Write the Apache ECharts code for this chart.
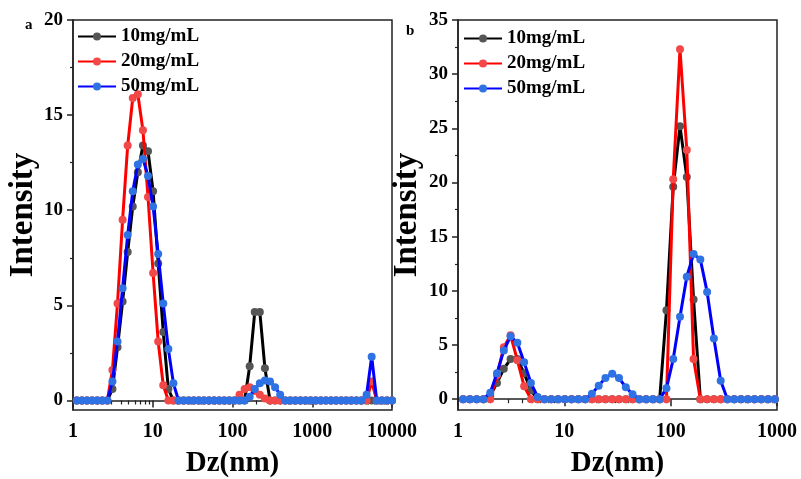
<!DOCTYPE html>
<html>
<head>
<meta charset="utf-8">
<script src="https://cdn.jsdelivr.net/npm/echarts@6/dist/echarts.min.js"></script>
<style>
  html, body { margin: 0; padding: 0; background: #fff; }
  #chart { width: 801px; height: 479px; }
</style>
</head>
<body>
<div id="chart"></div>
<script>
// DLS size classes (nm)
const sizes = [1.117, 1.294, 1.499, 1.736, 2.01, 2.328, 2.696, 3.122, 3.615, 4.187, 4.849, 5.615, 6.503, 7.531, 8.721, 10.1, 11.7, 13.54, 15.69, 18.17, 21.04, 24.36, 28.21, 32.67, 37.84, 43.82, 50.75, 58.77, 68.06, 78.82, 91.28, 105.7, 122.4, 141.8, 164.2, 190.1, 220.2, 255, 295.3, 342, 396.1, 458.7, 531.2, 615.1, 712.4, 825, 955.4, 1106, 1281, 1484, 1718, 1990, 2305, 2669, 3091, 3580, 4145, 4801, 5560, 6439, 7456, 8635, 10000];

// panel a
const a10 = [0, 0, 0, 0, 0, 0, 0, 0.6, 2.8, 5.2, 7.8, 10.2, 12.0, 13.4, 13.1, 11.0, 7.2, 3.6, 0.6, 0, 0, 0, 0, 0, 0, 0, 0, 0, 0, 0, 0, 0, 0, 0, 1.8, 4.65, 4.65, 1.7, 0, 0, 0, 0, 0, 0, 0, 0, 0, 0, 0, 0, 0, 0, 0, 0, 0, 0, 0, 0, 0, 0, 0, 0, 0];
const a20 = [0, 0, 0, 0, 0, 0, 0, 1.6, 5.1, 9.5, 13.4, 15.9, 16.1, 14.2, 10.7, 6.7, 3.1, 0.8, 0, 0, 0, 0, 0, 0, 0, 0, 0, 0, 0, 0, 0, 0, 0.3, 0.6, 0.7, 0.5, 0.3, 0.1, 0, 0, 0, 0, 0, 0, 0, 0, 0, 0, 0, 0, 0, 0, 0, 0, 0, 0, 0, 0, 1.0, 0, 0, 0, 0];
const a50 = [0, 0, 0, 0, 0, 0, 0, 1.0, 3.1, 5.9, 8.7, 11.0, 12.4, 12.7, 11.8, 10.2, 7.7, 5.1, 2.7, 0.9, 0, 0, 0, 0, 0, 0, 0, 0, 0, 0, 0, 0, 0, 0, 0.2, 0.6, 0.9, 1.05, 1.0, 0.7, 0.3, 0, 0, 0, 0, 0, 0, 0, 0, 0, 0, 0, 0, 0, 0, 0, 0, 0.3, 2.3, 0, 0, 0, 0];

// panel b (1 - 1000 nm)
const b10 = [0, 0, 0, 0, 0.3, 1.5, 2.8, 3.7, 3.7, 2.4, 0.8, 0, 0, 0, 0, 0, 0, 0, 0, 0, 0, 0, 0, 0, 0, 0, 0, 0, 0, 0, 8.2, 19.6, 25.2, 20.5, 9.2, 0, 0, 0, 0, 0, 0, 0, 0, 0, 0, 0, 0];
const b20 = [0, 0, 0, 0, 0, 2.2, 4.8, 5.9, 3.6, 1.2, 0, 0, 0, 0, 0, 0, 0, 0, 0, 0, 0, 0, 0, 0, 0, 0, 0, 0, 0, 0, 0, 20.3, 32.3, 23.0, 3.7, 0, 0, 0, 0, 0, 0, 0, 0, 0, 0, 0, 0];
const b50 = [0, 0, 0, 0, 0.6, 2.4, 4.5, 5.8, 5.2, 3.4, 1.5, 0.2, 0, 0, 0, 0, 0, 0, 0, 0.5, 1.25, 1.95, 2.35, 1.95, 1.1, 0.45, 0, 0, 0, 0, 1.0, 3.7, 7.6, 11.3, 13.4, 12.9, 9.9, 5.6, 1.7, 0, 0, 0, 0, 0, 0, 0, 0];

const names = ['10mg/mL', '20mg/mL', '50mg/mL'];
const lineColors = ['#000000', '#ff0000', '#0000ff'];
const dotColors = ['#555555', '#f24848', '#2f72e4'];

const aYMajor = [0, 5, 10, 15, 20];
const aYMinor = [2.5, 7.5, 12.5, 17.5];
const bYMajor = [0, 5, 10, 15, 20, 25, 30, 35];
const bYMinor = [2.5, 7.5, 12.5, 17.5, 22.5, 27.5, 32.5];
const aXMajor = [1, 10, 100, 1000, 10000];
const bXMajor = [1, 10, 100, 1000];
// minor ticks 2..9 of each decade, placed on a linear axis running in log10 units
const xMinor = [];
[0, 1, 2, 3].forEach(e => { for (let k = 2; k <= 9; k++) xMinor.push(e + Math.log10(k)); });

const FONT = '"Liberation Serif", "Times New Roman", serif';
const AXIS_COLOR = '#222';

function xAxes(gridIndex, max, major, decades) {
  return [
    {
      type: 'log', logBase: 10, gridIndex: gridIndex, min: 1, max: max, position: 'bottom',
      splitLine: { show: false },
      name: 'Dz(nm)', nameLocation: 'middle', nameGap: 39,
      nameTextStyle: { fontFamily: FONT, fontWeight: 'bold', fontSize: 29, color: '#000' },
      axisLine: { lineStyle: { color: AXIS_COLOR, width: 1.5 } },
      axisTick: { customValues: major, length: 7, lineStyle: { color: AXIS_COLOR, width: 1.5 } },
      axisLabel: { customValues: major, margin: 12, fontFamily: FONT, fontWeight: 'bold', fontSize: 20, color: '#000',
        formatter: v => String(v) }
    },
    {
      type: 'value', gridIndex: gridIndex, min: 0, max: decades, position: 'bottom',
      splitLine: { show: false },
      axisLine: { show: false },
      axisTick: { customValues: xMinor.filter(v => v < decades), length: 4, lineStyle: { color: AXIS_COLOR, width: 1.2 } },
      axisLabel: { show: false }
    }
  ];
}

function yAxes(gridIndex, min, max, major, minor, gap) {
  const base = { type: 'value', gridIndex: gridIndex, min: min, max: max, position: 'left', splitLine: { show: false } };
  return [
    Object.assign({}, base, {
      name: 'Intensity', nameLocation: 'middle', nameGap: gap,
      nameTextStyle: { fontFamily: FONT, fontWeight: 'bold', fontSize: 33, color: '#000' },
      axisLine: { show: true, lineStyle: { color: AXIS_COLOR, width: 1.5 } },
      axisTick: { show: true, customValues: major, length: 6, lineStyle: { color: AXIS_COLOR, width: 1.5 } },
      axisLabel: { customValues: major, margin: 10, fontFamily: FONT, fontWeight: 'bold', fontSize: 19, color: '#000' }
    }),
    Object.assign({}, base, {
      axisLine: { show: false },
      axisTick: { show: true, customValues: minor, length: 3, lineStyle: { color: AXIS_COLOR, width: 1.2 } },
      axisLabel: { show: false }
    })
  ];
}

function makeSeries(xIdx, yIdx, sets, n) {
  return sets.map((vals, i) => ({
    type: 'line',
    name: names[i],
    xAxisIndex: xIdx,
    yAxisIndex: yIdx,
    data: sizes.slice(0, n).map((s, j) => [s, vals[j]]),
    symbol: 'circle',
    symbolSize: 8,
    showSymbol: true,
    lineStyle: { color: lineColors[i], width: 3 },
    itemStyle: { color: dotColors[i] },
    emphasis: { disabled: true },
    z: 2 + i
  }));
}

function legendAt(left, top) {
  return {
    left: left, top: top, orient: 'vertical',
    itemWidth: 38, itemHeight: 10, itemGap: 6,
    data: names,
    textStyle: { fontFamily: FONT, fontWeight: 'bold', fontSize: 19, color: '#000' }
  };
}

function gridAt(left) {
  return {
    left: left, top: 20, width: 319, height: 390,
    outerBoundsMode: 'none', containLabel: false,
    show: true, borderColor: AXIS_COLOR, borderWidth: 1.5, backgroundColor: 'transparent'
  };
}

const chart = echarts.init(document.getElementById('chart'), null, { renderer: 'canvas' });
chart.setOption({
  backgroundColor: '#fff',
  animation: false,
  title: [
    { text: 'a', left: 20, top: 13, textStyle: { fontFamily: FONT, fontWeight: 'bold', fontSize: 15, color: '#000' } },
    { text: 'b', left: 401, top: 19, textStyle: { fontFamily: FONT, fontWeight: 'bold', fontSize: 15, color: '#000' } }
  ],
  legend: [legendAt(72, 22), legendAt(458, 24)],
  grid: [gridAt(73), gridAt(458)],
  xAxis: xAxes(0, 10000, aXMajor, 4).concat(xAxes(1, 1000, bXMajor, 3)),
  yAxis: yAxes(0, -0.5, 20, aYMajor, aYMinor, 32).concat(yAxes(1, -1, 35, bYMajor, bYMinor, 34)),
  series: makeSeries(0, 0, [a10, a20, a50], sizes.length)
    .concat(makeSeries(2, 2, [b10, b20, b50], 47))
});
</script>
</body>
</html>
